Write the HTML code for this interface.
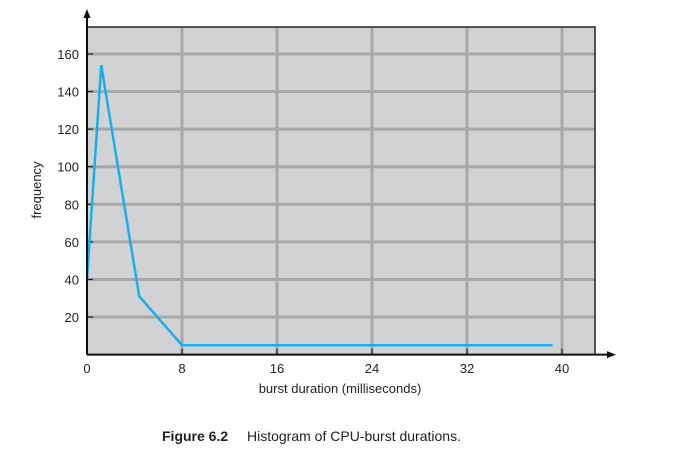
<!DOCTYPE html>
<html><head><meta charset="utf-8"><style>
body{margin:0;background:#fff;width:675px;height:462px;overflow:hidden}
text{font-family:"Liberation Sans",Arial,sans-serif}
</style></head><body>
<svg width="675" height="462">
<g id="plot"></g>
<text y="441" font-size="14" fill="#222"><tspan x="162" font-weight="bold">Figure 6.2</tspan><tspan x="247">Histogram of CPU-burst durations.</tspan></text>
</svg>
<script>
const xTicks=[0,8,16,24,32,40];
const yTicks=[20,40,60,80,100,120,140,160];
const burstX=[0,1.2,4.4,8,39.2];
const freqY=[40,154,31,5,5];
const L=87,R=595,T=27,B=354.6;
const sx=v=>L+v*11.875, sy=v=>B-v*1.879;
const NS='http://www.w3.org/2000/svg', g=document.getElementById('plot');
function mk(t,a,p){const e=document.createElementNS(NS,t);for(const k in a)e.setAttribute(k,a[k]);(p||g).appendChild(e);return e;}
let e=mk('rect',{x:L,y:T,width:R-L,height:B-T,fill:'#d1d2d4'});


xTicks.forEach(v=>{
 if(v>0){e=mk('line',{x1:sx(v),x2:sx(v),y1:T,y2:B,stroke:'#a7a8aa','stroke-width':3});
 
 }
 e=mk('line',{x1:sx(v),x2:sx(v),y1:B-6,y2:B,stroke:'#222','stroke-width':1.2});
 
 
 e=mk('text',{x:sx(v),y:373,'font-size':13,'text-anchor':'middle',fill:'#222'});e.textContent=v;
 
 
});
yTicks.forEach(v=>{
 e=mk('line',{x1:L,x2:R,y1:sy(v),y2:sy(v),stroke:'#a7a8aa','stroke-width':3});
 
 
 e=mk('line',{x1:L,x2:L+6,y1:sy(v),y2:sy(v),stroke:'#222','stroke-width':1.2});
 
 
 e=mk('text',{x:79,y:sy(v)+5,'font-size':13,'text-anchor':'end',fill:'#222'});e.textContent=v;
 
 
});
e=mk('polyline',{points:`${L},${T} ${R},${T} ${R},${B}`,fill:'none',stroke:'#222','stroke-width':1.5});


e=mk('polyline',{points:burstX.map((x,i)=>sx(x)+','+sy(freqY[i])).join(' '),fill:'none',stroke:'#1aaeea','stroke-width':2.5,'stroke-linejoin':'miter'});


e=mk('line',{x1:L,x2:L,y1:B,y2:16,stroke:'#111','stroke-width':2});


e=mk('polygon',{points:`${L},9 ${L-3.5},18 ${L+3.5},18`,fill:'#111'});


e=mk('line',{x1:L,x2:608,y1:B,y2:B,stroke:'#111','stroke-width':2});


e=mk('polygon',{points:`616,${B} 607,${B-3.5} 607,${B+3.5}`,fill:'#111'});


e=mk('text',{x:340,y:393,'font-size':13,'text-anchor':'middle',fill:'#222'});e.textContent='burst duration (milliseconds)';


e=mk('text',{x:0,y:0,'font-size':13,'text-anchor':'middle',fill:'#222',transform:'translate(41,190) rotate(-90)'});e.textContent='frequency';


</script>
</body></html>
